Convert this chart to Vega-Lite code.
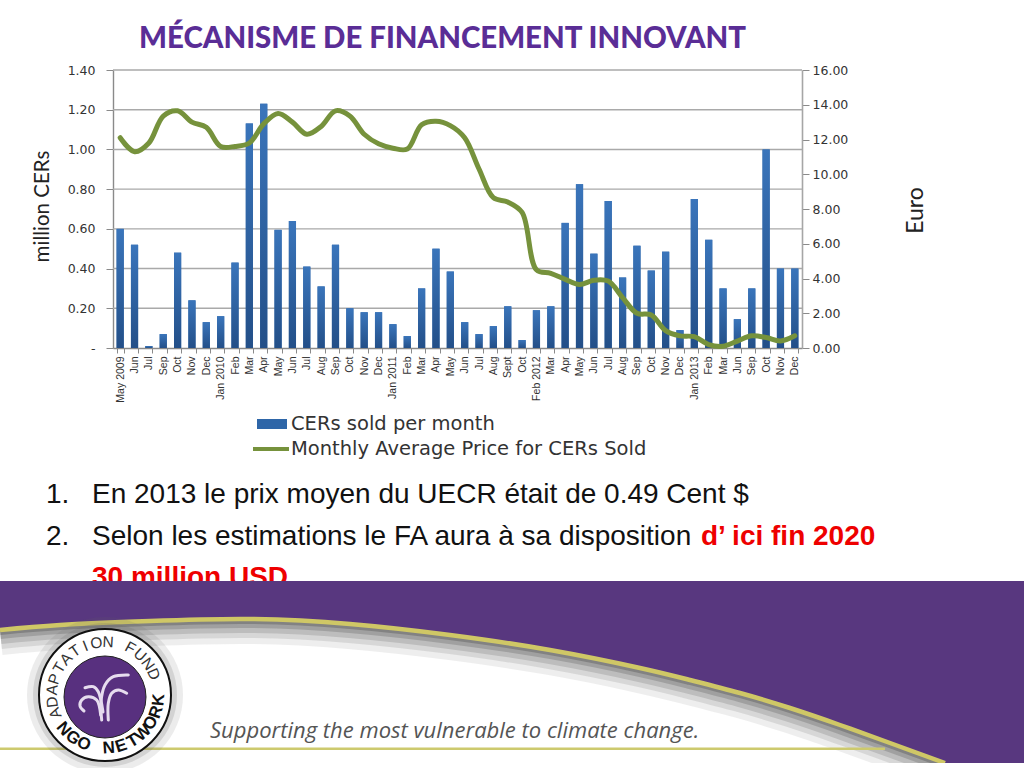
{
"$schema":"https://vega.github.io/schema/vega-lite/v6.json",
"autosize":"none","width":1024,"height":698,
"padding":{"left":0,"top":70,"right":0,"bottom":0},
"background":"white",
"title":{"text":"MÉCANISME DE FINANCEMENT INNOVANT","anchor":"start","frame":"group","dx":139,"offset":10,"font":"Lato","fontSize":29.4,"fontWeight":900,"color":"#5a2d96"},
"config":{"view":{"stroke":null}},
"datasets":{
"months":[
{"period":"2009-05|May 2009","cers":0.6,"price":12.1},{"period":"2009-06|Jun","cers":0.52,"price":11.3},{"period":"2009-07|Jul","cers":0.01,"price":11.8},{"period":"2009-09|Sep","cers":0.07,"price":13.35},{"period":"2009-10|Oct","cers":0.48,"price":13.65},{"period":"2009-11|Nov","cers":0.24,"price":13.0},{"period":"2009-12|Dec","cers":0.13,"price":12.7},
{"period":"2010-01|Jan 2010","cers":0.16,"price":11.6},{"period":"2010-02|Feb","cers":0.43,"price":11.6},{"period":"2010-03|Mar","cers":1.13,"price":11.8},{"period":"2010-04|Apr","cers":1.23,"price":12.9},{"period":"2010-05|May","cers":0.595,"price":13.5},{"period":"2010-06|Jun","cers":0.64,"price":13.0},{"period":"2010-07|Jul","cers":0.41,"price":12.3},{"period":"2010-08|Aug","cers":0.31,"price":12.75},{"period":"2010-09|Sep","cers":0.52,"price":13.65},{"period":"2010-10|Oct","cers":0.2,"price":13.35},{"period":"2010-11|Nov","cers":0.18,"price":12.3},{"period":"2010-12|Dec","cers":0.18,"price":11.75},
{"period":"2011-01|Jan 2011","cers":0.12,"price":11.5},{"period":"2011-02|Feb","cers":0.06,"price":11.45},{"period":"2011-03|Mar","cers":0.3,"price":12.85},{"period":"2011-04|Apr","cers":0.5,"price":13.05},{"period":"2011-05|May","cers":0.385,"price":12.8},{"period":"2011-06|Jun","cers":0.13,"price":12.1},{"period":"2011-07|Jul","cers":0.07,"price":10.3},{"period":"2011-08|Aug","cers":0.11,"price":8.65},{"period":"2011-09|Sept","cers":0.21,"price":8.4},{"period":"2011-10|Oct","cers":0.04,"price":7.8},
{"period":"2012-02|Feb 2012","cers":0.19,"price":4.5},{"period":"2012-03|Mar","cers":0.21,"price":4.3},{"period":"2012-04|Apr","cers":0.63,"price":3.95},{"period":"2012-05|May","cers":0.825,"price":3.65},{"period":"2012-06|Jun","cers":0.475,"price":3.9},{"period":"2012-07|Jul","cers":0.74,"price":3.85},{"period":"2012-08|Aug","cers":0.355,"price":2.9},{"period":"2012-09|Sep","cers":0.515,"price":2.0},{"period":"2012-10|Oct","cers":0.39,"price":1.9},{"period":"2012-11|Nov","cers":0.485,"price":1.0},{"period":"2012-12|Dec","cers":0.09,"price":0.7},
{"period":"2013-01|Jan 2013","cers":0.75,"price":0.65},{"period":"2013-02|Feb","cers":0.545,"price":0.2},{"period":"2013-03|Mar","cers":0.3,"price":0.1},{"period":"2013-06|Jun","cers":0.145,"price":0.4},{"period":"2013-09|Sep","cers":0.3,"price":0.7},{"period":"2013-10|Oct","cers":1.0,"price":0.6},{"period":"2013-11|Nov","cers":0.4,"price":0.4},{"period":"2013-12|Dec","cers":0.4,"price":0.7}
],
"grid":[{"v":0.2},{"v":0.4},{"v":0.6},{"v":0.8},{"v":1.0},{"v":1.2},{"v":1.4}],
"curve":[{"cx":0,"cy":630},{"cx":60,"cy":625},{"cx":150,"cy":621},{"cx":250,"cy":619},{"cx":350,"cy":624},{"cx":450,"cy":635},{"cx":550,"cy":650},{"cx":640,"cy":668},{"cx":690,"cy":680},{"cx":740,"cy":693},{"cx":790,"cy":708},{"cx":840,"cy":725},{"cx":890,"cy":743},{"cx":945,"cy":763}],
"ring":[{"cx":105,"cy":695}],
"disc":[{"cx":105,"cy":697}],
"fountain":[
{"arc":"a","i":1,"cx":101.7,"cy":720},{"arc":"a","i":2,"cx":101,"cy":701.7},{"arc":"a","i":3,"cx":105,"cy":685},{"arc":"a","i":4,"cx":113.3,"cy":676.7},{"arc":"a","i":5,"cx":128.3,"cy":675},
{"arc":"b","i":1,"cx":103,"cy":712},{"arc":"b","i":2,"cx":98.3,"cy":691.7},{"arc":"b","i":3,"cx":93.3,"cy":686.7},{"arc":"b","i":4,"cx":85,"cy":687.7},
{"arc":"c","i":1,"cx":108.3,"cy":720},{"arc":"c","i":2,"cx":108.3,"cy":703.3},{"arc":"c","i":3,"cx":111.7,"cy":693.3},{"arc":"c","i":4,"cx":118.3,"cy":690},{"arc":"c","i":5,"cx":126.7,"cy":693.3},
{"arc":"d","i":1,"cx":84,"cy":711},{"arc":"d","i":2,"cx":80,"cy":706},{"arc":"d","i":3,"cx":81.7,"cy":700},{"arc":"d","i":4,"cx":88.3,"cy":696.7},{"arc":"d","i":5,"cx":96.7,"cy":700},{"arc":"d","i":6,"cx":100.7,"cy":715}],
"lettersTop":[
{"ch":"A","cx":55.2,"cy":713,"rot":-110},{"ch":"D","cx":52.4,"cy":702,"rot":-97.4},{"ch":"A","cx":52.2,"cy":690,"rot":-84.8},{"ch":"P","cx":54.5,"cy":679,"rot":-72.2},{"ch":"T","cx":59.3,"cy":668,"rot":-59.6},{"ch":"A","cx":66.2,"cy":659,"rot":-47},{"ch":"T","cx":75.1,"cy":651,"rot":-34.4},{"ch":"I","cx":85.3,"cy":646,"rot":-21.8},{"ch":"O","cx":96.5,"cy":643,"rot":-9.2},{"ch":"N","cx":108.1,"cy":642,"rot":3.4},{"ch":"F","cx":130.4,"cy":648,"rot":28.6},{"ch":"U","cx":139.9,"cy":655,"rot":41.2},{"ch":"N","cx":147.8,"cy":664,"rot":53.8},{"ch":"D","cx":153.5,"cy":674,"rot":66.4}],
"lettersBottom":[
{"ch":"N","cx":63.6,"cy":729,"rot":50},{"ch":"G","cx":72.9,"cy":738,"rot":36.5},{"ch":"O","cx":83.9,"cy":744,"rot":23},{"ch":"N","cx":108.8,"cy":748,"rot":-4},{"ch":"E","cx":121.2,"cy":746,"rot":-17.5},{"ch":"T","cx":132.8,"cy":741,"rot":-31},{"ch":"W","cx":142.9,"cy":733,"rot":-44.5},{"ch":"O","cx":150.8,"cy":723,"rot":-58},{"ch":"R","cx":156.2,"cy":712,"rot":-71.5},{"ch":"K","cx":158.8,"cy":700,"rot":-85}]
},
"resolve":{"scale":{"x":"independent","y":"independent","fill":"independent","stroke":"independent"},"axis":{"x":"independent","y":"independent"}},
"layer":[
{"data":{"name":"grid"},"mark":{"type":"rule","color":"#a9a9a9","strokeWidth":1.4},
 "encoding":{"y":{"field":"v","type":"quantitative","scale":{"domain":[0,1.4],"range":[278,0],"nice":false},"axis":null},
 "x":{"datum":0,"type":"quantitative","scale":{"domain":[0,1],"range":[113,802]},"axis":null},"x2":{"datum":1}}},
{"data":{"name":"months"},"mark":{"type":"bar"},
 "encoding":{
 "x":{"field":"period","type":"ordinal","sort":null,"scale":{"type":"band","range":[113,802],"paddingInner":0.5,"paddingOuter":0.25},
  "axis":{"title":null,"orient":"bottom","offset":-420,"labelExpr":"split(datum.label,'|')[1]","labelAngle":-90,"labelAlign":"right","labelBaseline":"middle","labelFont":"Liberation Sans","labelFontSize":10.5,"labelColor":"#333333","labelPadding":3,"labelOverlap":false,"labelBound":false,"tickBand":"extent","tickColor":"#8a8a8a","tickSize":5,"domainColor":"#8a8a8a","domainWidth":1.4,"grid":false}},
 "y":{"field":"cers","type":"quantitative","scale":{"domain":[0,1.4],"range":[278,0],"nice":false},
  "axis":{"title":"million CERs","orient":"left","offset":-113,"values":[0,0.2,0.4,0.6,0.8,1,1.2,1.4],"labelExpr":"datum.value==0?'-':format(datum.value,'.2f')","labelFont":"DejaVu Sans","labelFontSize":12.5,"labelColor":"#333333","labelPadding":11,"tickSize":7,"tickColor":"#8a8a8a","domainColor":"#8a8a8a","domainWidth":1.4,"grid":false,"titleFont":"Lato","titleFontSize":20.5,"titleFontWeight":"normal","titleColor":"#222222","titlePadding":15,"titleY":136}},
 "fill":{"datum":"CERs sold per month","type":"nominal","scale":{"range":["#2e66a8"]},
  "legend":{"title":null,"orient":"none","legendX":262,"legendY":344,"symbolType":"M-1.5,-0.5H1.5V0.5H-1.5Z","symbolSize":400,"symbolStrokeWidth":0,"labelFont":"DejaVu Sans","labelFontSize":19.5,"labelColor":"#333333","labelOffset":9,"labelLimit":500}}
 }},
{"data":{"name":"months"},"mark":{"type":"bar","fill":{"gradient":"linear","x1":0,"y1":0,"x2":0,"y2":1,"stops":[{"offset":0,"color":"#3a75bb"},{"offset":1,"color":"#234f88"}]}},
 "encoding":{
 "x":{"field":"period","type":"ordinal","sort":null,"scale":{"type":"band","range":[113,802],"paddingInner":0.5,"paddingOuter":0.25},"axis":null},
 "y":{"field":"cers","type":"quantitative","scale":{"domain":[0,1.4],"range":[278,0],"nice":false},"axis":null}
 }},
{"data":{"name":"months"},"mark":{"type":"line","strokeWidth":5,"interpolate":"catmull-rom","strokeCap":"round","strokeJoin":"round"},
 "encoding":{
 "x":{"field":"period","type":"ordinal","sort":null,"scale":{"type":"band","range":[113,802],"paddingInner":0.5,"paddingOuter":0.25},"axis":null},
 "y":{"field":"price","type":"quantitative","scale":{"domain":[0,16],"range":[278,0],"nice":false},
  "axis":{"title":"Euro","orient":"right","offset":-222,"values":[0,2,4,6,8,10,12,14,16],"format":".2f","labelFont":"DejaVu Sans","labelFontSize":12.5,"labelColor":"#333333","labelPadding":3,"tickSize":7,"tickColor":"#8a8a8a","domainColor":"#a6a6a6","domainWidth":1.6,"grid":false,"titleFont":"Lato","titleFontSize":23,"titleFontWeight":"normal","titleColor":"#222222","titlePadding":80,"titleAngle":270,"titleY":140}},
 "stroke":{"datum":"Monthly Average Price for CERs Sold","type":"nominal","scale":{"range":["#76923c"]},
  "legend":{"title":null,"orient":"none","legendX":259,"legendY":367,"symbolType":"M-1.8,0H1.8","symbolSize":400,"symbolStrokeWidth":4,"labelFont":"DejaVu Sans","labelFontSize":19.5,"labelColor":"#333333","labelOffset":8,"labelLimit":500}}
 }},
{"data":{"values":[{"num":"1.","line":1},{"num":"2.","line":2}]},"mark":{"type":"text","font":"Liberation Sans","fontSize":28,"align":"left","baseline":"alphabetic","color":"#111111"},
 "encoding":{"text":{"field":"num"},"x":{"datum":46,"type":"quantitative","scale":{"domain":[0,1024],"range":[0,1024]},"axis":null},"y":{"field":"line","type":"quantitative","scale":{"domain":[1,3],"range":[433,516]},"axis":null}}},
{"data":{"values":[{"t":"En 2013 le prix moyen du UECR était de 0.49 Cent $","line":1},{"t":"Selon les estimations le FA aura à sa disposition","line":2}]},"mark":{"type":"text","font":"Liberation Sans","fontSize":28,"align":"left","baseline":"alphabetic","color":"#111111"},
 "encoding":{"text":{"field":"t"},"x":{"datum":92,"type":"quantitative","scale":{"domain":[0,1024],"range":[0,1024]},"axis":null},"y":{"field":"line","type":"quantitative","scale":{"domain":[1,3],"range":[433,516]},"axis":null}}},
{"data":{"values":[{"t":"d’ ici fin 2020","line":2}]},"mark":{"type":"text","font":"Liberation Sans","fontSize":28,"fontWeight":"bold","align":"left","baseline":"alphabetic","color":"#ee0000"},
 "encoding":{"text":{"field":"t"},"x":{"datum":701,"type":"quantitative","scale":{"domain":[0,1024],"range":[0,1024]},"axis":null},"y":{"field":"line","type":"quantitative","scale":{"domain":[1,3],"range":[433,516]},"axis":null}}},
{"data":{"values":[{"t":"30 million USD","line":3}]},"mark":{"type":"text","font":"Liberation Sans","fontSize":28,"fontWeight":"bold","align":"left","baseline":"alphabetic","color":"#ee0000"},
 "encoding":{"text":{"field":"t"},"x":{"datum":92,"type":"quantitative","scale":{"domain":[0,1024],"range":[0,1024]},"axis":null},"y":{"field":"line","type":"quantitative","scale":{"domain":[1,3],"range":[433,516]},"axis":null}}},
{"data":{"values":[{"band":"purple"}]},"mark":{"type":"rect","color":"#58377f"},
 "encoding":{"x":{"datum":0,"type":"quantitative","scale":{"domain":[0,1024],"range":[0,1024]},"axis":null},"x2":{"datum":1024},"y":{"datum":581,"type":"quantitative","scale":{"domain":[70,768],"range":[0,698]},"axis":null},"y2":{"datum":763}}},
{"data":{"name":"curve"},"mark":{"type":"area","color":"white","interpolate":"natural"},
 "encoding":{"x":{"field":"cx","type":"quantitative","scale":{"domain":[0,1024],"range":[0,1024]},"axis":null},"y":{"field":"cy","type":"quantitative","scale":{"domain":[70,768],"range":[0,698]},"axis":null},"y2":{"datum":763}}},
{"data":{"name":"curve"},"mark":{"type":"line","color":"#555555","opacity":0.1,"strokeWidth":50,"interpolate":"natural"},
 "encoding":{"x":{"field":"cx","type":"quantitative","scale":{"domain":[0,1024],"range":[0,1024]},"axis":null},"y":{"field":"cy","type":"quantitative","scale":{"domain":[70,768],"range":[0,698]},"axis":null}}},
{"data":{"name":"curve"},"mark":{"type":"line","color":"#555555","opacity":0.15,"strokeWidth":38,"interpolate":"natural"},
 "encoding":{"x":{"field":"cx","type":"quantitative","scale":{"domain":[0,1024],"range":[0,1024]},"axis":null},"y":{"field":"cy","type":"quantitative","scale":{"domain":[70,768],"range":[0,698]},"axis":null}}},
{"data":{"name":"curve"},"mark":{"type":"line","color":"#555555","opacity":0.2,"strokeWidth":28,"interpolate":"natural"},
 "encoding":{"x":{"field":"cx","type":"quantitative","scale":{"domain":[0,1024],"range":[0,1024]},"axis":null},"y":{"field":"cy","type":"quantitative","scale":{"domain":[70,768],"range":[0,698]},"axis":null}}},
{"data":{"name":"curve"},"mark":{"type":"line","color":"#555555","opacity":0.28,"strokeWidth":18,"interpolate":"natural"},
 "encoding":{"x":{"field":"cx","type":"quantitative","scale":{"domain":[0,1024],"range":[0,1024]},"axis":null},"y":{"field":"cy","type":"quantitative","scale":{"domain":[70,768],"range":[0,698]},"axis":null}}},
{"data":{"name":"curve"},"mark":{"type":"line","color":"#555555","opacity":0.4,"strokeWidth":10,"interpolate":"natural"},
 "encoding":{"x":{"field":"cx","type":"quantitative","scale":{"domain":[0,1024],"range":[0,1024]},"axis":null},"y":{"field":"cy","type":"quantitative","scale":{"domain":[70,768],"range":[0,698]},"axis":null}}},
{"data":{"name":"curve"},"mark":{"type":"area","color":"#58377f","interpolate":"natural"},
 "encoding":{"x":{"field":"cx","type":"quantitative","scale":{"domain":[0,1024],"range":[0,1024]},"axis":null},"y":{"field":"cy","type":"quantitative","scale":{"domain":[70,768],"range":[0,698]},"axis":null},"y2":{"datum":581}}},
{"data":{"values":[{"band":"purple right"}]},"mark":{"type":"rect","color":"#58377f"},
 "encoding":{"x":{"datum":945,"type":"quantitative","scale":{"domain":[0,1024],"range":[0,1024]},"axis":null},"x2":{"datum":1024},"y":{"datum":581,"type":"quantitative","scale":{"domain":[70,768],"range":[0,698]},"axis":null},"y2":{"datum":763}}},
{"data":{"name":"curve"},"mark":{"type":"line","color":"#cfc766","strokeWidth":4.5,"interpolate":"natural"},
 "encoding":{"x":{"field":"cx","type":"quantitative","scale":{"domain":[0,1024],"range":[0,1024]},"axis":null},"y":{"field":"cy","type":"quantitative","scale":{"domain":[70,768],"range":[0,698]},"axis":null}}},
{"data":{"values":[{"strip":"bottom"}]},"mark":{"type":"rect","color":"white"},
 "encoding":{"x":{"datum":0,"type":"quantitative","scale":{"domain":[0,1024],"range":[0,1024]},"axis":null},"x2":{"datum":1024},"y":{"datum":763,"type":"quantitative","scale":{"domain":[70,768],"range":[0,698]},"axis":null},"y2":{"datum":768}}},
{"data":{"values":[{"strip":"gold"}]},"mark":{"type":"rule","color":"#cdca6e","strokeWidth":2.5},
 "encoding":{"x":{"datum":0,"type":"quantitative","scale":{"domain":[0,1024],"range":[0,1024]},"axis":null},"x2":{"datum":885},"y":{"datum":748.7,"type":"quantitative","scale":{"domain":[70,768],"range":[0,698]},"axis":null}}},
{"data":{"values":[{"t":"Supporting the most vulnerable to climate change."}]},"mark":{"type":"text","font":"Open Sans","fontStyle":"italic","fontSize":22,"align":"left","baseline":"alphabetic","color":"#555555"},
 "encoding":{"text":{"field":"t"},"x":{"datum":210,"type":"quantitative","scale":{"domain":[0,1024],"range":[0,1024]},"axis":null},"y":{"datum":738,"type":"quantitative","scale":{"domain":[70,768],"range":[0,698]},"axis":null}}},
{"data":{"name":"ring"},"mark":{"type":"point","shape":"circle","filled":true,"color":"#666666","opacity":0.12,"size":24336},
 "encoding":{"x":{"field":"cx","type":"quantitative","scale":{"domain":[0,1024],"range":[0,1024]},"axis":null},"y":{"field":"cy","type":"quantitative","scale":{"domain":[70,768],"range":[0,698]},"axis":null}}},
{"data":{"name":"ring"},"mark":{"type":"point","shape":"circle","filled":true,"color":"#666666","opacity":0.18,"size":20736},
 "encoding":{"x":{"field":"cx","type":"quantitative","scale":{"domain":[0,1024],"range":[0,1024]},"axis":null},"y":{"field":"cy","type":"quantitative","scale":{"domain":[70,768],"range":[0,698]},"axis":null}}},
{"data":{"name":"ring"},"mark":{"type":"point","shape":"circle","filled":true,"fill":"white","stroke":"#111111","strokeWidth":2,"opacity":1,"size":17424},
 "encoding":{"x":{"field":"cx","type":"quantitative","scale":{"domain":[0,1024],"range":[0,1024]},"axis":null},"y":{"field":"cy","type":"quantitative","scale":{"domain":[70,768],"range":[0,698]},"axis":null}}},
{"data":{"name":"disc"},"mark":{"type":"point","shape":"circle","filled":true,"fill":"#58307f","stroke":"#222222","strokeWidth":1,"opacity":1,"size":6724},
 "encoding":{"x":{"field":"cx","type":"quantitative","scale":{"domain":[0,1024],"range":[0,1024]},"axis":null},"y":{"field":"cy","type":"quantitative","scale":{"domain":[70,768],"range":[0,698]},"axis":null}}},
{"data":{"name":"fountain"},"mark":{"type":"line","color":"#e6dcee","strokeWidth":3,"interpolate":"catmull-rom","strokeCap":"round"},
 "encoding":{"detail":{"field":"arc"},"order":{"field":"i","type":"quantitative"},"x":{"field":"cx","type":"quantitative","scale":{"domain":[0,1024],"range":[0,1024]},"axis":null},"y":{"field":"cy","type":"quantitative","scale":{"domain":[70,768],"range":[0,698]},"axis":null}}},
{"data":{"name":"lettersTop"},"mark":{"type":"text","font":"Liberation Sans","fontSize":15.5,"color":"#333333","align":"center","baseline":"middle"},
 "encoding":{"text":{"field":"ch"},"angle":{"field":"rot","type":"quantitative","scale":null},"x":{"field":"cx","type":"quantitative","scale":{"domain":[0,1024],"range":[0,1024]},"axis":null},"y":{"field":"cy","type":"quantitative","scale":{"domain":[70,768],"range":[0,698]},"axis":null}}},
{"data":{"name":"lettersBottom"},"mark":{"type":"text","font":"Liberation Sans","fontWeight":"bold","fontSize":17,"color":"#111111","align":"center","baseline":"middle"},
 "encoding":{"text":{"field":"ch"},"angle":{"field":"rot","type":"quantitative","scale":null},"x":{"field":"cx","type":"quantitative","scale":{"domain":[0,1024],"range":[0,1024]},"axis":null},"y":{"field":"cy","type":"quantitative","scale":{"domain":[70,768],"range":[0,698]},"axis":null}}}
]
}
